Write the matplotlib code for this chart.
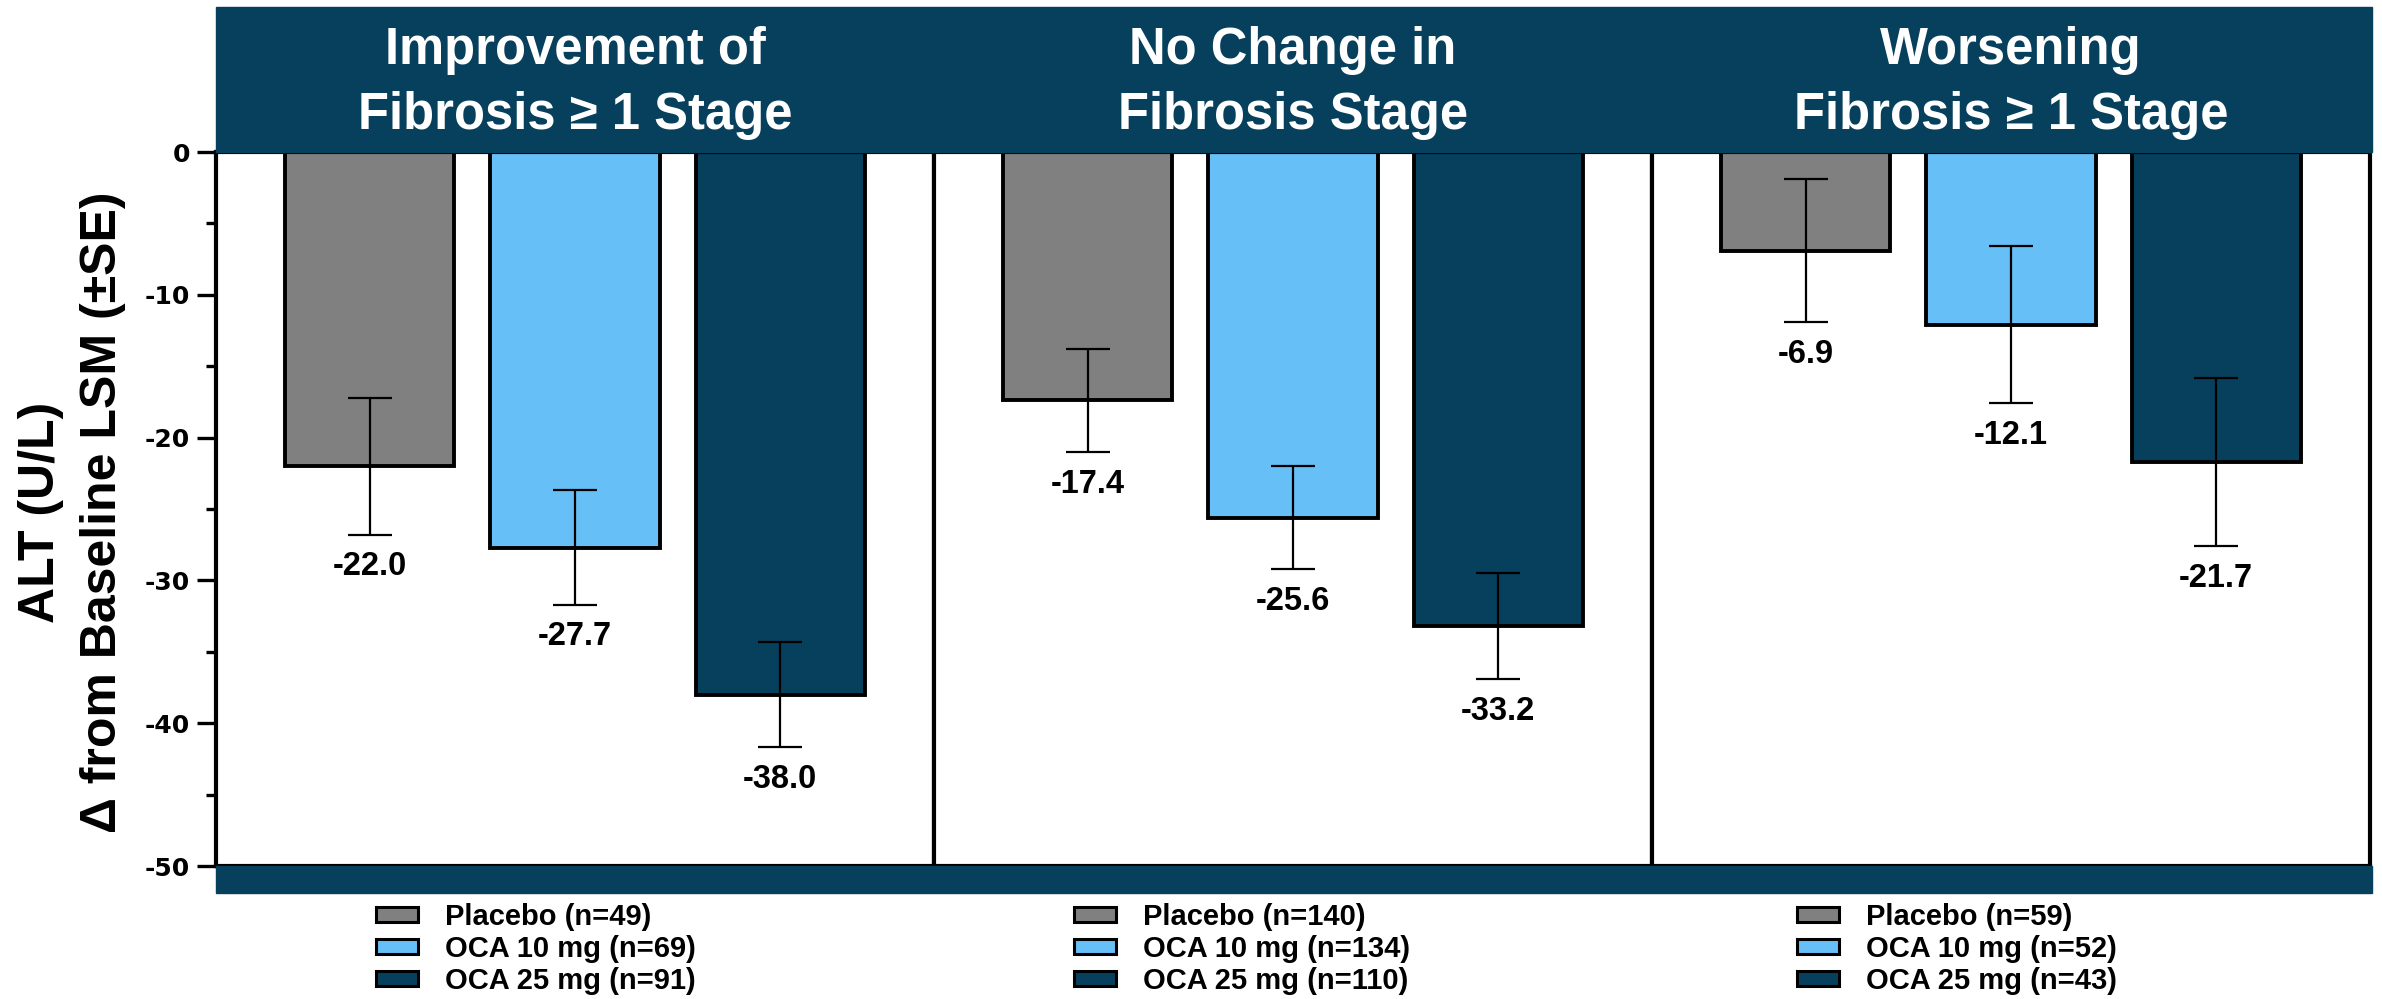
import matplotlib
matplotlib.use("Agg")
import matplotlib.pyplot as plt
from matplotlib.patches import Patch, Rectangle
from matplotlib.ticker import MultipleLocator

plt.rcParams["font.family"] = ["Liberation Sans", "DejaVu Sans"]
plt.rcParams["font.weight"] = "bold"
plt.rcParams["axes.unicode_minus"] = False

groups = ["Improvement of\nFibrosis \u2265 1 Stage",
          "No Change in\nFibrosis Stage",
          "Worsening\nFibrosis \u2265 1 Stage"]
arms = ["Placebo", "OCA 10 mg", "OCA 25 mg"]
colors = ["#808080", "#66BFF6", "#07405C"]
means = [[-22.0, -27.7, -38.0],
         [-17.4, -25.6, -33.2],
         [-6.9, -12.1, -21.7]]
errors = [[4.8, 4.0, 3.7],
          [3.6, 3.6, 3.7],
          [5.0, 5.5, 5.9]]
counts = [[49, 69, 91],
          [140, 134, 110],
          [59, 52, 43]]

navy = "#07405C"
W, H = 2382, 999


def fx(px):
    return px / W


def fy(py):
    return 1 - py / H


fig = plt.figure(figsize=(W / 100, H / 100), dpi=100)
gs = fig.add_gridspec(1, 3, left=fx(216), right=fx(2370), bottom=fy(866), top=fy(152), wspace=0)
axes = [fig.add_subplot(gs[0, i]) for i in range(3)]

# header band and thin footer band
fig.patches.append(Rectangle((fx(216), fy(152)), fx(2372) - fx(216), fy(7) - fy(152),
                             transform=fig.transFigure, color=navy, zorder=0))
fig.patches.append(Rectangle((fx(216), fy(893)), fx(2372) - fx(216), fy(866) - fy(893),
                             transform=fig.transFigure, color=navy, zorder=0))

legend_x = [376, 1074, 1797]

for k, ax in enumerate(axes):
    x = range(len(arms))
    ax.bar(x, means[k], width=0.825, color=colors, edgecolor="black", linewidth=2.8, zorder=2)
    ax.errorbar(x, means[k], yerr=errors[k], fmt="none", ecolor="black",
                elinewidth=1.6, capsize=15.5, capthick=1.6, zorder=3)
    for i, (m, e) in enumerate(zip(means[k], errors[k])):
        ax.annotate(f"{m:.1f}", (i, m - e), xytext=(0, -12), textcoords="offset points",
                    ha="center", va="top", fontsize=23.5, fontweight="bold")

    ax.set_xlim(-0.75, 2.75)
    ax.set_ylim(-50, 0)
    ax.set_xticks([])
    for side in ["left", "right", "top", "bottom"]:
        ax.spines[side].set_linewidth(3)
        ax.spines[side].set_color("black")

    if k == 0:
        ax.yaxis.set_major_locator(MultipleLocator(10))
        ax.yaxis.set_minor_locator(MultipleLocator(5))
        ax.tick_params(axis="y", which="major", length=14, width=2.4, pad=4.5)
        ax.tick_params(axis="y", which="minor", length=7, width=2.4)
        for lab in ax.get_yticklabels():
            lab.set_fontfamily("DejaVu Sans")
            lab.set_fontweight("bold")
            lab.set_fontsize(18)
    else:
        ax.set_yticks([])
        ax.yaxis.set_minor_locator(plt.NullLocator())

    # panel heading inside the band
    pos = ax.get_position()
    fig.text((pos.x0 + pos.x1) / 2, fy(83), groups[k], ha="center", va="center",
             color="white", fontsize=36.5, fontweight="bold", linespacing=1.4)

    handles = [Patch(facecolor=c, edgecolor="black", linewidth=2.2) for c in colors]
    labels = [f"{a} (n={n})" for a, n in zip(arms, counts[k])]
    fig.legend(handles, labels, loc="upper left", bbox_to_anchor=(fx(legend_x[k]), fy(903)),
               frameon=False, handlelength=1.45, handleheight=0.4,
               handletextpad=0.9, labelspacing=0.14, borderpad=0, borderaxespad=0,
               prop={"weight": "bold", "size": 21})

fig.text(fx(72), fy(512), "ALT (U/L)\n\u0394 from Baseline LSM (\u00b1SE)", rotation=90,
         ha="center", va="center", fontsize=36, fontweight="bold", linespacing=1.47)

fig.savefig("out.png", dpi=100, facecolor="white")
